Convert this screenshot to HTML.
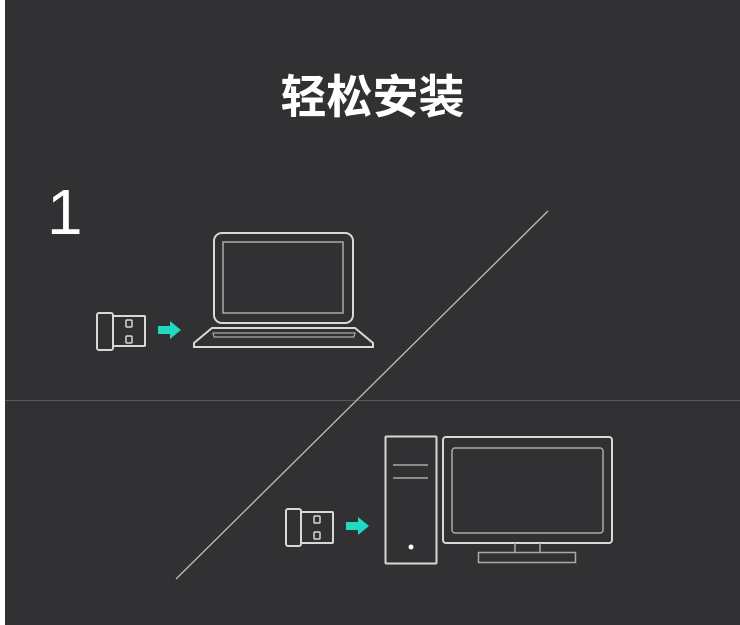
<!DOCTYPE html>
<html><head><meta charset="utf-8"><style>
body{margin:0;width:740px;height:625px;overflow:hidden;background:#fff}
.bg{position:absolute;left:5px;top:0;width:735px;height:625px;background:#313133}
.t{position:absolute;left:0;width:745px;top:70px;text-align:center;color:#fff;font:bold 46px "Liberation Sans","Noto Sans CJK SC",sans-serif;line-height:55px}
.n{position:absolute;left:47px;top:176px;color:#fff;font:normal 64px "Liberation Sans",sans-serif;line-height:72px}
svg{position:absolute;left:0;top:0}
</style></head><body>
<div class="bg"></div>
<div class="t">轻松安装</div>
<div class="n">1</div>
<svg width="740" height="625" viewBox="0 0 740 625" fill="none" stroke="#d8d8d8" stroke-width="2">
<line x1="5" y1="400.5" x2="740" y2="400.5" stroke="#58585a" stroke-width="1"/>
<line x1="548" y1="211" x2="176" y2="579" stroke="#bdbdbd" stroke-width="1.3"/>
<rect x="214" y="233" width="139" height="90" rx="8"/>
<rect x="223" y="242" width="120" height="71" stroke="#aaa" stroke-width="1.5"/>
<path d="M212 328 H355 L373 343 V347 H194 V343 Z"/>
<path d="M213 333 H355 L354 337 H214 Z" stroke="#aaa" stroke-width="1.2"/>
<rect x="97" y="313" width="16" height="37" rx="2"/>
<rect x="113" y="316" width="32" height="30" rx="1"/>
<rect x="126" y="320" width="6" height="7" rx="1" stroke-width="1.5"/>
<rect x="126" y="336" width="6" height="7" rx="1" stroke-width="1.5"/>
<path d="M158 326 H170 V321 L181 330 L170 339 V334 H158 Z" fill="#1fd9c3" stroke="none"/>
<rect x="286" y="509" width="15" height="37" rx="2"/>
<rect x="301" y="512" width="32" height="31" rx="1"/>
<rect x="314" y="516" width="6" height="7" rx="1" stroke-width="1.5"/>
<rect x="314" y="532" width="6" height="7" rx="1" stroke-width="1.5"/>
<path d="M346 522 H358 V517 L369 526 L358 535 V530 H346 Z" fill="#1fd9c3" stroke="none"/>
<rect x="385.5" y="436.5" width="51" height="127" rx="1"/>
<line x1="393" y1="465" x2="428" y2="465" stroke="#aaa" stroke-width="1.5"/>
<line x1="393" y1="478" x2="428" y2="478" stroke="#aaa" stroke-width="1.5"/>
<circle cx="411" cy="547" r="2.5" fill="#fff" stroke="none"/>
<rect x="443" y="437" width="169" height="106" rx="3"/>
<rect x="452" y="448" width="151" height="85" rx="3" stroke="#aaa" stroke-width="1.5"/>
<path d="M515 543 V552 M540 543 V552" stroke="#aaa" stroke-width="1.5"/>
<rect x="478.5" y="552.5" width="97" height="10" stroke="#aaa" stroke-width="1.5"/>
</svg>
</body></html>
